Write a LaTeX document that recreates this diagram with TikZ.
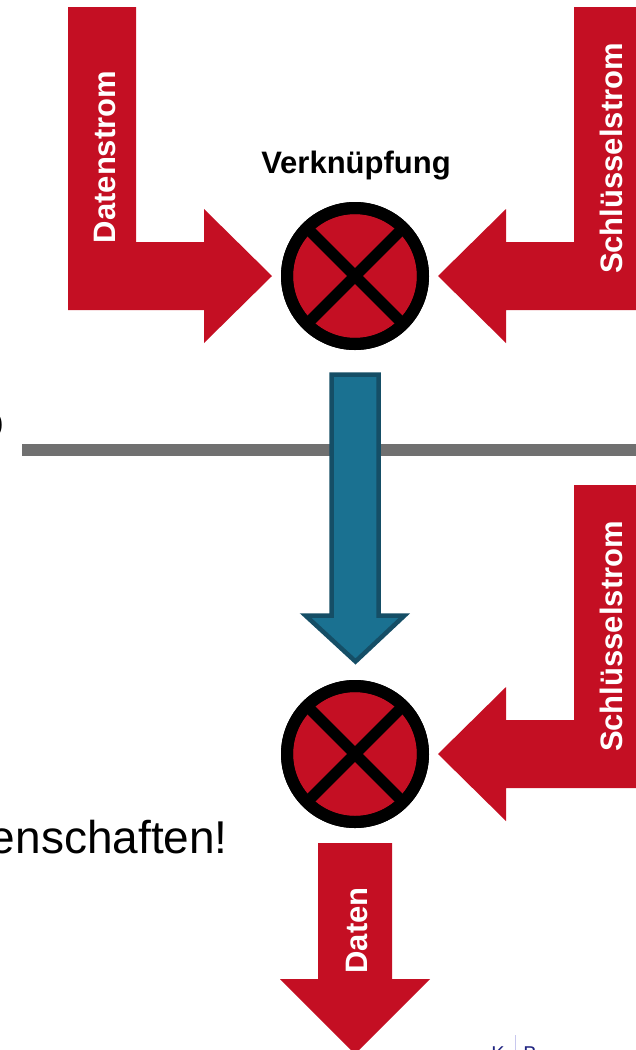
\documentclass[tikz,border=0pt]{standalone}
\usepackage{fontspec}
\setmainfont{Liberation Sans}
\definecolor{dkred}{HTML}{C40F23}
\definecolor{teal}{HTML}{1A7191}
\definecolor{tealdark}{HTML}{154E66}
\definecolor{rule}{HTML}{707070}
\definecolor{navy}{HTML}{1F2380}
\definecolor{lavender}{HTML}{C8C8EE}
\begin{document}
\begin{tikzpicture}[x=1pt,y=-1pt,
  redarrow/.style={fill=dkred},
  arrowlabel/.style={text=white, font=\bfseries\fontsize{31}{31}\selectfont,
    rotate=90, anchor=base, inner sep=0pt},
  xorcircle/.style={circle, draw=black, line width=12pt, fill=dkred,
    minimum size=136pt, inner sep=0pt},
  xorcross/.style={line width=11pt, draw=black},
]
\useasboundingbox (0,0) rectangle (635,1050);

% horizontal rule behind the flow
\draw[rule, line width=12pt] (22,450) -- (640,450);

% combination circles
\node[xorcircle] (c1) at (355,276) {};
\node[xorcircle] (c2) at (355,754) {};
\foreach \c in {c1,c2}{
  \draw[xorcross] (\c.center) ++(45:64) -- ++(225:128);
  \draw[xorcross] (\c.center) ++(135:64) -- ++(315:128);
  \draw[line width=12pt] (\c.center) circle[radius=68];
}

\node[anchor=base, font=\bfseries\fontsize{31}{31}\selectfont, inner sep=0pt]
  (verkn) at (356,173) {Verknüpfung};

% data stream entering from the left
\fill[redarrow] (68,7) -- (136,7) -- (136,242) -- (204,242) -- (204,209)
  -- (272,276) -- (204,343) -- (204,310) -- (68,310) -- cycle;
\node[arrowlabel] (ds) at (115,157) {Datenstrom};

% key stream entering from the right (top)
\fill[redarrow] (642,7) -- (574,7) -- (574,242) -- (506,242) -- (506,209)
  -- (438,276) -- (506,343) -- (506,310) -- (642,310) -- cycle;
\node[arrowlabel] (ks1) at (622,158.5) {Schlüsselstrom};

% key stream entering from the right (bottom)
\fill[redarrow] (642,485) -- (574,485) -- (574,720) -- (506,720) -- (506,687)
  -- (438,754) -- (506,821) -- (506,788) -- (642,788) -- cycle;
\node[arrowlabel] (ks2) at (622,636.5) {Schlüsselstrom};

% transmitted cipher stream
\draw[fill=teal, draw=tealdark, line width=4.5pt, line join=miter]
  (331.5,374.5) -- (378.5,374.5) -- (378.5,615.5) -- (404.5,615.5)
  -- (355.5,661.5) -- (305.5,615.5) -- (331.5,615.5) -- cycle;

% recovered data
\fill[redarrow] (318,843) -- (392,843) -- (392,979) -- (430,979)
  -- (355,1054) -- (280,979) -- (318,979) -- cycle;
\node[arrowlabel] (dt) at (367,930.5) {Daten};

% text running in from the left
\node[anchor=base east, inner sep=0pt, font=\fontsize{46}{46}\selectfont]
  (txt) at (228,853) {enschaften!};
\node[anchor=base east, inner sep=0pt, font=\fontsize{46}{46}\selectfont]
  (frag) at (4,437) {o};

% logo at the lower edge
\node[anchor=base, inner sep=0pt, text=navy, font=\fontsize{20}{20}\selectfont]
  (lk) at (498,1060) {K};
\node[anchor=base, inner sep=0pt, text=navy, font=\fontsize{20}{20}\selectfont]
  (lb) at (530,1060) {B};
\draw[lavender, line width=1pt] (515,1035) -- (515,1055);
\end{tikzpicture}
\end{document}
